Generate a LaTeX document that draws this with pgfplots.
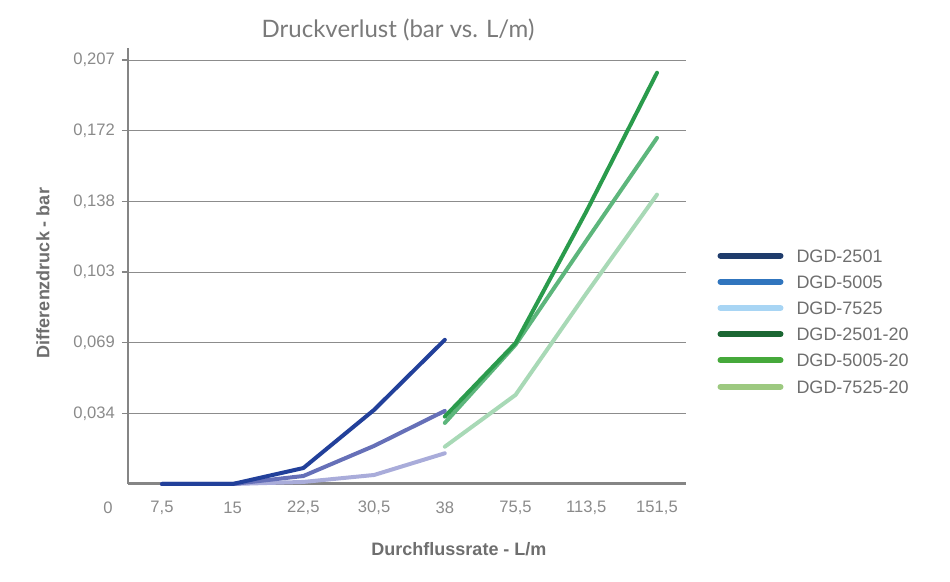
\documentclass[border=0pt]{standalone}
\usepackage{pgfplots}
\pgfplotsset{compat=1.18}
\usepackage{fontspec}
\setmainfont{Liberation Sans}
\newfontfamily\titlefont{Lato}

\definecolor{gridgray}{HTML}{8C8C8C}
\definecolor{axisgray}{HTML}{858585}
\definecolor{ticktext}{HTML}{8A8A8A}
\definecolor{labeltext}{HTML}{6E6E6E}
\definecolor{titletext}{HTML}{7A7A7A}
% line colours in the plot
\definecolor{bA}{HTML}{22409A}
\definecolor{bB}{HTML}{6670B8}
\definecolor{bC}{HTML}{A9ACDA}
\definecolor{gA}{HTML}{2A9B4C}
\definecolor{gB}{HTML}{5DB67C}
\definecolor{gC}{HTML}{A8D9B6}
% legend colours (differ from the plot)
\definecolor{lA}{HTML}{1F3C6C}
\definecolor{lB}{HTML}{3075BE}
\definecolor{lC}{HTML}{A8D5F4}
\definecolor{lD}{HTML}{1B6733}
\definecolor{lE}{HTML}{46A93B}
\definecolor{lF}{HTML}{9DC980}

\begin{document}
\begin{tikzpicture}[x=1pt,y=1pt]
\path[use as bounding box] (0,0) rectangle (475,291);
\begin{axis}[
  at={(64pt,49pt)}, anchor=south west,
  scale only axis, width=279pt, height=218pt,
  xmin=0.52, xmax=8.41, ymin=0, ymax=0.2129,
  axis lines=left,
  x axis line style={-, draw=axisgray, line width=1.5pt},
  y axis line style={-, draw=axisgray, line width=1pt},
  xtick={1,...,8},
  xticklabels={{7,5},{15},{22,5},{30,5},{38},{75,5},{113,5},{151,5}},
  ytick={0.0345,0.069,0.1035,0.138,0.1725,0.207},
  yticklabels={{0,034},{0,069},{0,103},{0,138},{0,172},{0,207}},
  /pgf/number format/assume math mode=true,
  tick label style={font=\fontsize{8.3}{9.5}\selectfont, text=ticktext},
  xtick style={draw=none},
  ytick style={draw=axisgray, line width=0.6pt},
  tick align=outside, major tick length=3pt,
  xticklabel style={anchor=center, yshift=-9pt},
  yticklabel style={anchor=east},
  ymajorgrids, grid style={draw=gridgray, line width=0.5pt},
  clip=false,
  every axis plot/.append style={line width=2pt, line cap=round, line join=round},
  legend style={at={(1.045,0.558)}, anchor=north west, draw=none, fill=none,
    font=\fontsize{9}{10}\selectfont, text=labeltext, row sep=2.6pt, column sep=4.5pt,
    nodes={inner sep=2pt, text height=6.5pt, text depth=0pt}},
  legend cell align=left,
  legend image code/.code={\draw[#1, line width=3pt, line cap=round] (1.5pt,0pt) -- (31.5pt,0pt);},
]
\addlegendimage{lA}\addlegendentry{DGD-2501}
\addlegendimage{lB}\addlegendentry{DGD-5005}
\addlegendimage{lC}\addlegendentry{DGD-7525}
\addlegendimage{lD}\addlegendentry{DGD-2501-20}
\addlegendimage{lE}\addlegendentry{DGD-5005-20}
\addlegendimage{lF}\addlegendentry{DGD-7525-20}

\addplot[bC, forget plot] coordinates {(1,0) (2,0) (3,0.0010) (4,0.0044) (5,0.0150)};
\addplot[bB, forget plot] coordinates {(1,0) (2,0) (3,0.0039) (4,0.0186) (5,0.0357)};
\addplot[bA, forget plot] coordinates {(1,0) (2,0) (3,0.0078) (4,0.0362) (5,0.0704)};

\addplot[gC, forget plot] coordinates {(5,0.0182) (6,0.0435) (7,0.0930) (8,0.1413)};
\addplot[gB, forget plot] coordinates {(5,0.0298) (6,0.0680) (7,0.1188) (8,0.1690)};
\addplot[gA, forget plot] coordinates {(5,0.0329) (6,0.0688) (7,0.1330) (8,0.2008)};
\end{axis}

\node[font=\titlefont\fontsize{12}{14}\selectfont, text=titletext] at (199,276) {Druckverlust (bar vs. L/m)};
\node[font=\bfseries\fontsize{9}{10}\selectfont, text=labeltext] at (229.5,16.5) {Durchflussrate - L/m};
\node[font=\bfseries\fontsize{9}{10}\selectfont, text=labeltext, rotate=90] at (21.5,154.5) {Differenzdruck - bar};
\node[font=\fontsize{8.3}{9.5}\selectfont, text=ticktext] at (54,37) {0};
\end{tikzpicture}
\end{document}
